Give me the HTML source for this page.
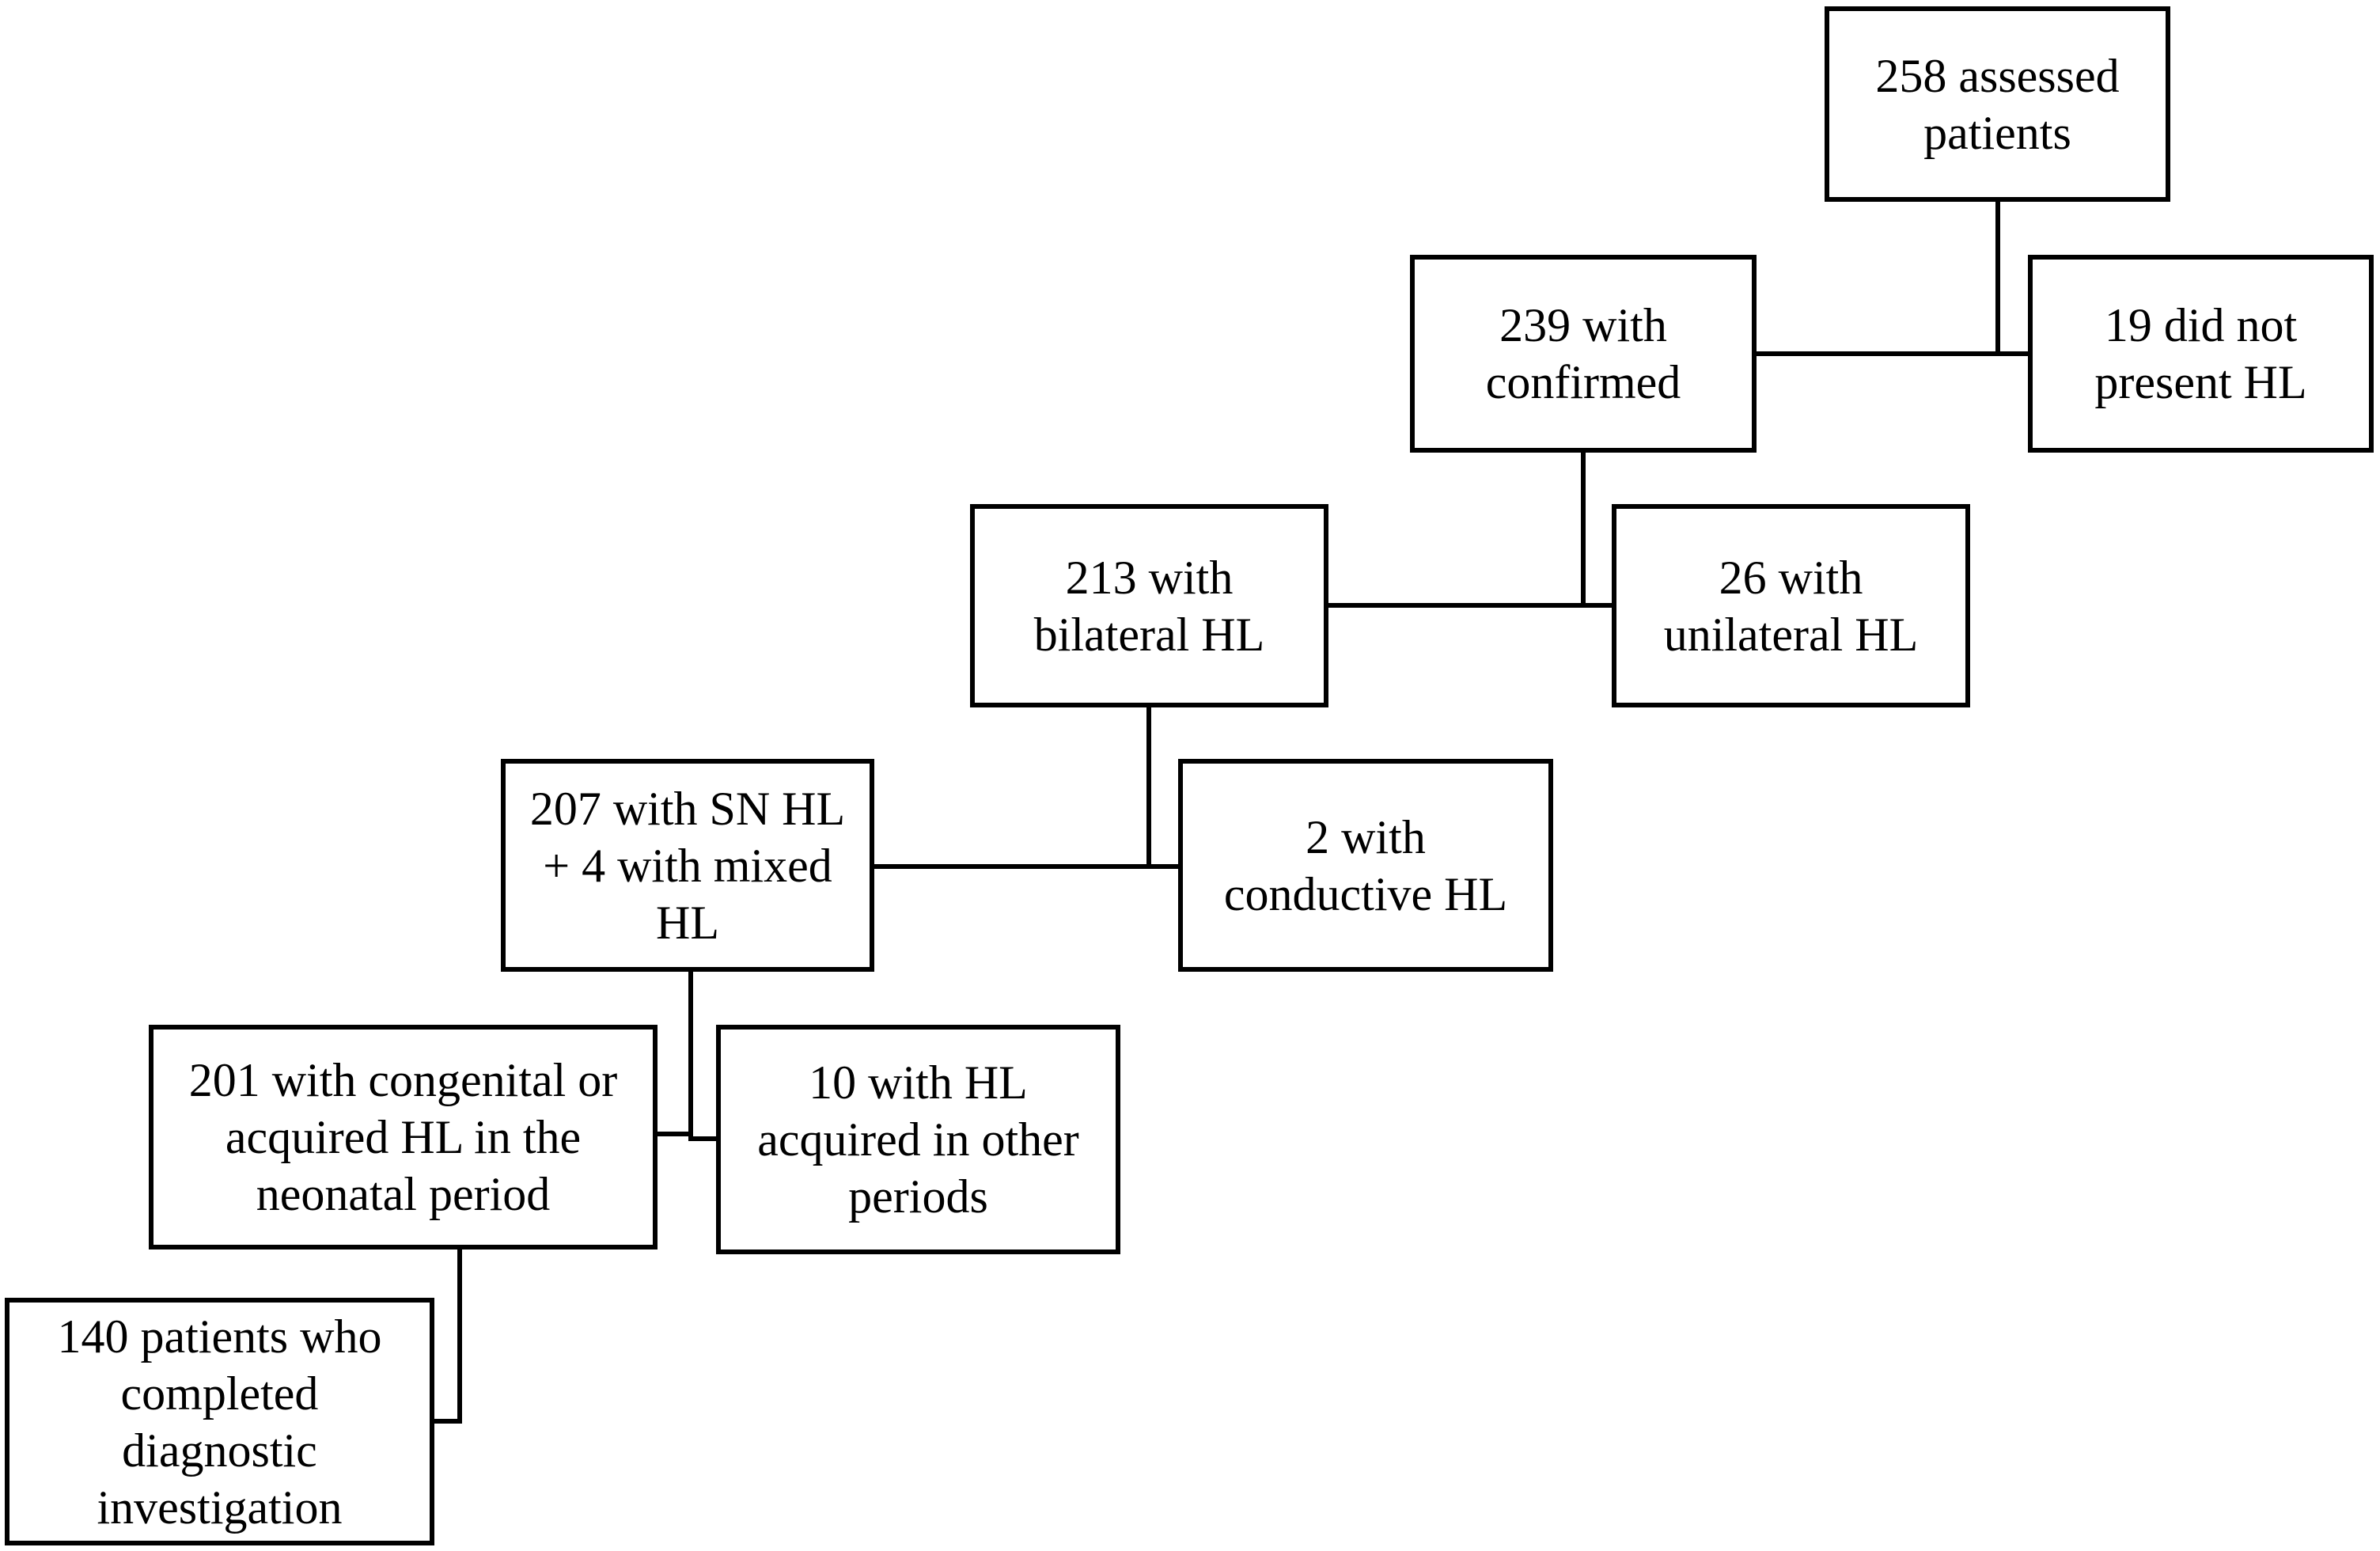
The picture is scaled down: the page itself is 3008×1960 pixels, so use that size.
<!DOCTYPE html>
<html><head><meta charset="utf-8"><style>
html,body{margin:0;padding:0;background:#fff;}
body{width:3008px;height:1960px;position:relative;overflow:hidden;font-family:"Liberation Serif",serif;}
.b{position:absolute;box-sizing:border-box;border:6px solid #000;display:flex;align-items:center;justify-content:center;text-align:center;font-size:60px;line-height:72px;color:#000;}
.l{position:absolute;background:#000;}
</style></head><body>
<div class="b" style="left:2306px;top:8px;width:437px;height:247px">258 assessed<br>patients</div>
<div class="b" style="left:1782px;top:322px;width:438px;height:250px">239 with<br>confirmed</div>
<div class="b" style="left:2563px;top:322px;width:437px;height:250px">19 did not<br>present HL</div>
<div class="b" style="left:1226px;top:637px;width:453px;height:257px">213 with<br>bilateral HL</div>
<div class="b" style="left:2037px;top:637px;width:453px;height:257px">26 with<br>unilateral HL</div>
<div class="b" style="left:633px;top:959px;width:472px;height:269px">207 with SN HL<br>+ 4 with mixed<br>HL</div>
<div class="b" style="left:1489px;top:959px;width:474px;height:269px">2 with<br>conductive HL</div>
<div class="b" style="left:188px;top:1295px;width:643px;height:284px">201 with congenital or<br>acquired HL in the<br>neonatal period</div>
<div class="b" style="left:905px;top:1295px;width:511px;height:290px">10 with HL<br>acquired in other<br>periods</div>
<div class="b" style="left:6px;top:1640px;width:543px;height:313px">140 patients who<br>completed<br>diagnostic<br>investigation</div>

<div class="l" style="left:2522px;top:255px;width:6px;height:195px"></div>
<div class="l" style="left:2220px;top:444px;width:343px;height:6px"></div>
<div class="l" style="left:1998px;top:572px;width:6px;height:196px"></div>
<div class="l" style="left:1679px;top:762px;width:358px;height:6px"></div>
<div class="l" style="left:1449px;top:894px;width:6px;height:204px"></div>
<div class="l" style="left:1105px;top:1092px;width:384px;height:6px"></div>
<div class="l" style="left:870px;top:1228px;width:6px;height:214px"></div>
<div class="l" style="left:831px;top:1430px;width:42px;height:6px"></div>
<div class="l" style="left:870px;top:1436px;width:35px;height:6px"></div>
<div class="l" style="left:578px;top:1579px;width:6px;height:220px"></div>
<div class="l" style="left:549px;top:1793px;width:35px;height:6px"></div>
</body></html>
